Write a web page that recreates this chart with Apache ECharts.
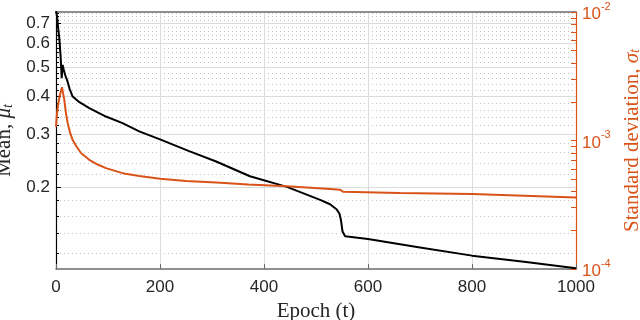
<!DOCTYPE html>
<html>
 <head>
  <meta charset="utf-8" />
  <title>Mean and standard deviation per epoch</title>
  <script src="https://cdn.jsdelivr.net/npm/echarts@6/dist/echarts.min.js"></script>
 </head>
 <body style="margin:0;background:#fff;">
  <div id="main" style="width:640px;height:320px;"></div>
  <script type="text/javascript">

    // values
    var meanEpochs = [0, 2, 4, 6.4, 9, 11, 12.8, 15, 18, 22, 26, 32, 45, 64, 96, 128, 160, 200, 256, 308, 373, 444, 508, 527, 540, 545, 548, 551, 556, 600, 700, 800, 900, 1000];
    var meanValues = [0.77, 0.74, 0.68, 0.625, 0.54, 0.46, 0.51, 0.49, 0.47, 0.45, 0.425, 0.40, 0.383, 0.366, 0.343, 0.326, 0.306, 0.288, 0.263, 0.243, 0.217, 0.200, 0.181, 0.175, 0.168, 0.163, 0.155, 0.142, 0.137, 0.134, 0.1257, 0.118, 0.1125, 0.1072];

    var stdEpochs = [0, 2, 5, 8, 11.5, 13, 16, 19, 22.4, 27, 32, 40, 48, 64, 80, 96, 128, 160, 200, 250, 308, 370, 444, 527, 546, 552, 661, 800, 1000];
    var stdValues = [1.28e-3, 1.65e-3, 2.0e-3, 2.3e-3, 2.6e-3, 2.4e-3, 2.07e-3, 1.65e-3, 1.37e-3, 1.15e-3, 1.01e-3, 8.9e-4, 8.0e-4, 7.07e-4, 6.5e-4, 6.1e-4, 5.57e-4, 5.3e-4, 5.03e-4, 4.85e-4, 4.71e-4, 4.55e-4, 4.4e-4, 4.19e-4, 4.14e-4, 4.0e-4, 3.9e-4, 3.83e-4, 3.6e-4];

    var xTicks = [0, 200, 400, 600, 800, 1000];
    var meanTicks = [0.2, 0.3, 0.4, 0.5, 0.6, 0.7];
    var meanMinorTicks = [0.12, 0.14, 0.16, 0.18, 0.22, 0.24, 0.26, 0.28, 0.32, 0.34, 0.36, 0.38,
                          0.42, 0.44, 0.46, 0.48, 0.52, 0.54, 0.56, 0.58, 0.62, 0.64, 0.66, 0.68,
                          0.72, 0.74, 0.76];
    var stdTicks = [1e-4, 1e-3, 1e-2];
    var stdMinorTicks = [2e-4, 3e-4, 4e-4, 5e-4, 6e-4, 7e-4, 8e-4, 9e-4,
                         2e-3, 3e-3, 4e-3, 5e-3, 6e-3, 7e-3, 8e-3, 9e-3];

    var orange = '#D95319';
    var textGray = '#262626';
    var serif = '"Liberation Serif", "DejaVu Serif", serif';
    var sans = '"Liberation Sans", Arial, sans-serif';

    function pairs(xs, ys) {
        var out = [];
        for (var i = 0; i < xs.length; i++) out.push([xs[i], ys[i]]);
        return out;
    }

    var myChart = echarts.init(document.getElementById('main'));

    myChart.setOption({
        animation: false,
        backgroundColor: '#fff',
        grid: { left: 56, right: 64, top: 12, bottom: 51, outerBoundsMode: 'none' },
        xAxis: [{
            type: 'value', min: 0, max: 1000,
            position: 'bottom',
            axisLine: { onZero: false, lineStyle: { color: '#6b6b6b', width: 1.5 } },
            axisTick: { inside: true, length: 5, customValues: xTicks, lineStyle: { color: '#6b6b6b' } },
            axisLabel: {
                customValues: xTicks, color: textGray, fontSize: 17, fontFamily: sans, margin: 10,
                formatter: function (v) { return String(v); }
            },
            splitLine: { show: true, lineStyle: { color: '#dcdcdc', width: 1 } },
            name: 'Epoch (t)', nameLocation: 'middle', nameGap: 30,
            nameTextStyle: { color: textGray, fontSize: 21, fontFamily: serif }
        }, {
            type: 'value', min: 0, max: 1000,
            position: 'top',
            axisLine: { show: true, onZero: false, lineStyle: { color: '#6b6b6b', width: 1.5 } },
            axisTick: { show: false },
            axisLabel: { show: false },
            splitLine: { show: false }
        }],
        yAxis: [{
            type: 'log', logBase: 10, min: 0.1065, max: 0.765,
            position: 'left',
            axisLine: { show: true, onZero: false, lineStyle: { color: '#000', width: 1.2 } },
            axisTick: { inside: true, length: 5, customValues: meanTicks, lineStyle: { color: '#000' } },
            axisLabel: {
                customValues: meanTicks, color: textGray, fontSize: 17, fontFamily: sans, margin: 6,
                formatter: function (v) { return (+v).toFixed(1); }
            },
            splitLine: { show: true, lineStyle: { color: '#dcdcdc', width: 1 } },
            name: 'Mean, {i|μ}{s|t}', nameLocation: 'middle', nameGap: 35, nameRotate: 90,
            nameTextStyle: {
                color: textGray, fontSize: 21, fontFamily: serif,
                rich: {
                    i: { fontSize: 21, fontFamily: serif, fontStyle: 'italic', color: textGray, verticalAlign: 'bottom', lineHeight: 21 },
                    s: { fontSize: 14, fontFamily: serif, fontStyle: 'italic', color: textGray, verticalAlign: 'bottom', lineHeight: 17 }
                }
            }
        }, {
            type: 'log', logBase: 10, min: 1e-4, max: 1e-2,
            position: 'right',
            axisLine: { show: true, onZero: false, lineStyle: { color: orange, width: 1.2 } },
            axisTick: { inside: true, length: 5, customValues: stdTicks.concat(stdMinorTicks), lineStyle: { color: orange } },
            axisLabel: {
                customValues: stdTicks, color: orange, fontSize: 17, fontFamily: sans, margin: 6,
                formatter: function (v) {
                    return '{n|10}{p|' + Math.round(Math.log(v) / Math.LN10) + '}';
                },
                rich: {
                    n: { fontSize: 17, fontFamily: sans, color: orange, verticalAlign: 'bottom', lineHeight: 22 },
                    p: { fontSize: 11, fontFamily: sans, color: orange, verticalAlign: 'top', lineHeight: 11 }
                }
            },
            splitLine: { show: false },
            name: 'Standard deviation, {i|σ}{s|t}', nameLocation: 'middle', nameGap: 44, nameRotate: 90,
            nameTextStyle: {
                color: orange, fontSize: 21, fontFamily: serif,
                rich: {
                    i: { fontSize: 21, fontFamily: serif, fontStyle: 'italic', color: orange, verticalAlign: 'bottom', lineHeight: 21 },
                    s: { fontSize: 14, fontFamily: serif, fontStyle: 'italic', color: orange, verticalAlign: 'bottom', lineHeight: 17 }
                }
            }
        }, {
            // minor grid of the mean axis
            type: 'log', logBase: 10, min: 0.1065, max: 0.765,
            position: 'left',
            axisLine: { show: false, onZero: false },
            axisTick: { show: true, inside: true, length: 3, customValues: meanMinorTicks, lineStyle: { color: '#000' } },
            axisLabel: { show: false },
            splitLine: { show: true, lineStyle: { color: '#c4c4c4', width: 1, type: [1, 3] } }
        }],
        series: [{
            name: 'mean', type: 'line', xAxisIndex: 0, yAxisIndex: 0,
            data: pairs(meanEpochs, meanValues),
            symbol: 'none', smooth: false,
            lineStyle: { color: '#000', width: 2 }
        }, {
            name: 'std', type: 'line', xAxisIndex: 0, yAxisIndex: 1,
            data: pairs(stdEpochs, stdValues),
            symbol: 'none', smooth: false,
            lineStyle: { color: orange, width: 2 }
        }]
    });
</script>
 </body>
</html>
